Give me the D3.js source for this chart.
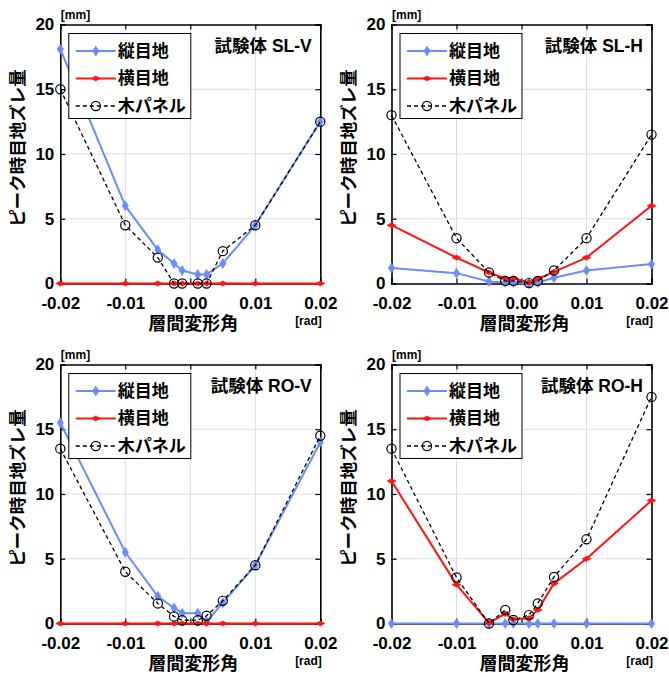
<!DOCTYPE html>
<html><head><meta charset="utf-8">
<script src="https://cdn.jsdelivr.net/npm/d3@7"></script>
<style>
body{margin:0;background:#fff;}
svg{display:block;}
text{font-family:"Liberation Sans","Noto Sans CJK JP",Arial,sans-serif;font-weight:bold;fill:#000;}
</style></head>
<body><svg id="c" width="669" height="677"></svg>
<script>
// drift angle (rad) of each cycle
const xs = [-0.02,-0.01,-0.005,-0.0025,-0.00125,0.00115,0.0025,0.005,0.01,0.02];
const xTicks = [-0.02,-0.01,0,0.01,0.02];
const xTickLabels = ["-0.02","-0.01","0.00","0.01","0.02"];
const yTicks = [0,5,10,15,20];
const yTickLabels = ["0","5","10","15","20"];
const seriesNames = ["縦目地","横目地","木パネル"];
const panelTitles = ["試験体 SL-V","試験体 SL-H","試験体 RO-V","試験体 RO-H"];

// SL-V
const slvVert  = [18.1,6.0,2.6,1.55,1.0,0.7,0.7,1.55,4.5,12.5];
const slvHoriz = [0,0,0,0,0,0,0,0,0,0];
const slvWood  = [15.0,4.5,2.0,0,0,0,0,2.5,4.5,12.5];
// SL-H
const slhVert  = [1.2,0.8,0.15,0.08,0.08,0.0,0.08,0.45,1.0,1.5];
const slhHoriz = [4.5,2.0,0.85,0.4,0.4,0.08,0.35,0.9,2.0,6.0];
const slhWood  = [13.0,3.5,0.85,0.2,0.2,0.03,0.2,1.0,3.5,11.5];
// RO-V
const rovVert  = [15.5,5.5,2.1,1.2,0.8,0.8,0.15,1.6,4.5,14.0];
const rovHoriz = [0,0,0,0,0,0,0,0,0,0];
const rovWood  = [13.5,4.0,1.55,0.55,0.25,0.25,0.6,1.75,4.5,14.5];
// RO-H
const rohVert  = [0,0,0,0,0,0,0,0,0,0];
const rohHoriz = [11.0,3.0,0.05,0.75,0.33,0.4,1.05,3.1,5.0,9.5];
const rohWood  = [13.5,3.55,0.0,1.05,0.27,0.65,1.55,3.6,6.5,17.5];

const panelData = [
  [slvVert,slvHoriz,slvWood],
  [slhVert,slhHoriz,slhWood],
  [rovVert,rovHoriz,rovWood],
  [rohVert,rohHoriz,rohWood]
];

const BLUE="#6b8cff", RED="#ff1414";
const styles=[
  {color:BLUE,width:2,dash:null,marker:"vd"},
  {color:RED,width:2,dash:null,marker:"hd"},
  {color:"#000",width:1.3,dash:"4,3",marker:"circle"}
];
const PW=260, PH=259;
const origins=[[60.3,24.5],[391.5,24.5],[60.3,364.5],[391.5,364.5]];

const svg=d3.select("#c");

function drawMarker(g,type,cx,cy,color){
  if(type==="vd"){
    g.append("path").attr("d",`M${cx},${cy-5}L${cx+3.2},${cy}L${cx},${cy+5}L${cx-3.2},${cy}Z`).attr("fill",color).attr("stroke",color).attr("stroke-width",0.6);
  }else if(type==="hd"){
    g.append("path").attr("d",`M${cx-4.5},${cy}L${cx},${cy-2.6}L${cx+4.5},${cy}L${cx},${cy+2.6}Z`).attr("fill",color).attr("stroke",color).attr("stroke-width",0.6);
  }else{
    g.append("circle").attr("cx",cx).attr("cy",cy).attr("r",4.6).attr("fill","none").attr("stroke",color).attr("stroke-width",1.2);
  }
}

panelData.forEach((series,pi)=>{
  const [ox,oy]=origins[pi];
  const g=svg.append("g").attr("transform",`translate(${ox},${oy})`);
  const x=d3.scaleLinear().domain([-0.02,0.02]).range([0,PW]);
  const y=d3.scaleLinear().domain([0,20]).range([PH,0]);

  // grid
  g.append("g").selectAll("line").data(xTicks.slice(1,-1)).join("line")
    .attr("x1",d=>x(d)).attr("x2",d=>x(d)).attr("y1",0).attr("y2",PH)
    .attr("stroke","#d6dde8").attr("stroke-width",1);
  g.append("g").selectAll("line").data(yTicks.slice(1,-1)).join("line")
    .attr("y1",d=>y(d)).attr("y2",d=>y(d)).attr("x1",0).attr("x2",PW)
    .attr("stroke","#d6dde8").attr("stroke-width",1);

  // axes with inward ticks on all sides
  const axB=d3.axisBottom(x).tickValues(xTicks).tickSize(-5).tickPadding(13).tickFormat((d,i)=>xTickLabels[i]);
  const axT=d3.axisTop(x).tickValues(xTicks).tickSize(-5).tickFormat("");
  const axL=d3.axisLeft(y).tickValues(yTicks).tickSize(-5).tickPadding(9).tickFormat((d,i)=>yTickLabels[i]);
  const axR=d3.axisRight(y).tickValues(yTicks).tickSize(-5).tickFormat("");
  const gb=g.append("g").attr("transform",`translate(0,${PH})`).call(axB);
  const gt=g.append("g").call(axT);
  const gl=g.append("g").call(axL);
  const gr=g.append("g").attr("transform",`translate(${PW},0)`).call(axR);
  [gb,gt,gl,gr].forEach(a=>{
    a.select(".domain").attr("stroke","#000").attr("stroke-width",1.6);
    a.selectAll(".tick line").attr("stroke","#000").attr("stroke-width",1.2);
    a.selectAll("text").attr("font-size",17).attr("font-weight","bold").attr("fill","#000")
      .style("font-family",'"Liberation Sans",Arial,sans-serif');
  });
  gb.selectAll("text").attr("dy","0.72em");
  gl.selectAll("text").attr("dx","3");

  // series
  series.forEach((vals,si)=>{
    const st=styles[si];
    const line=d3.line().x((d,i)=>x(xs[i])).y(d=>y(d));
    g.append("path").datum(vals).attr("d",line).attr("fill","none")
      .attr("stroke",st.color).attr("stroke-width",st.width)
      .attr("stroke-dasharray",st.dash).attr("stroke-linejoin","round");
    const mg=g.append("g");
    vals.forEach((v,i)=>drawMarker(mg,st.marker,x(xs[i]),y(v),st.color));
  });

  // legend
  const lg=g.append("g").attr("transform","translate(8.5,9)");
  lg.append("rect").attr("x",0).attr("y",0).attr("width",122).attr("height",85)
    .attr("fill","#fff").attr("stroke","#000").attr("stroke-width",1);
  seriesNames.forEach((nm,si)=>{
    const st=styles[si];
    const ly=17.5+si*27.5;
    lg.append("line").attr("x1",7).attr("x2",47).attr("y1",ly).attr("y2",ly)
      .attr("stroke",st.color).attr("stroke-width",st.width).attr("stroke-dasharray",st.dash);
    drawMarker(lg,st.marker,27,ly,st.color);
    lg.append("text").attr("x",49).attr("y",ly).attr("dominant-baseline","central")
      .attr("font-size",17).text(nm);
  });

  // title
  g.append("text").attr("x",PW-8.5).attr("y",27).attr("text-anchor","end")
    .attr("font-size",17.5).text(panelTitles[pi]);
  // units
  g.append("text").attr("x",0.5).attr("y",-9.5).attr("dominant-baseline","central")
    .attr("font-size",12).text("[mm]");
  g.append("text").attr("x",PW+1.5).attr("y",PH+37).attr("text-anchor","end").attr("dominant-baseline","central")
    .attr("font-size",12).text("[rad]");
  // axis titles
  g.append("text").attr("x",PW/2+3).attr("y",PH+40).attr("text-anchor","middle").attr("dominant-baseline","central")
    .attr("font-size",18).text("層間変形角");
  g.append("text").attr("transform",`translate(-42.5,${PH/2-6}) rotate(-90)`)
    .attr("text-anchor","middle").attr("dominant-baseline","central")
    .attr("font-size",17.5).text("ピーク時目地ズレ量");
});
</script></body></html>
